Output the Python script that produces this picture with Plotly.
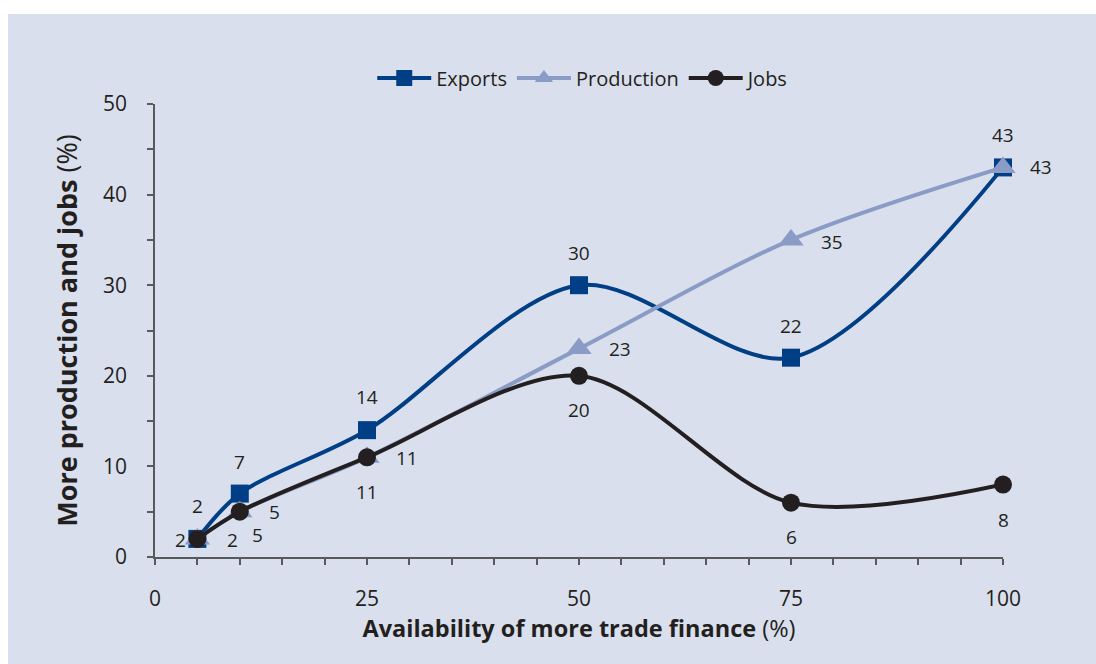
import plotly.graph_objects as go

# Data
availability = [5, 10, 25, 50, 75, 100]
exports = [2, 7, 14, 30, 22, 43]
production = [2, 5, 11, 23, 35, 43]
jobs = [2, 5, 11, 20, 6, 8]

series_names = ["Exports", "Production", "Jobs"]
x_tick_vals = [0, 25, 50, 75, 100]
y_tick_vals = [0, 10, 20, 30, 40, 50]

# Styles
PANEL = "#D9DFEC"
C_EXP = "#003E85"
C_PROD = "#8A9BC6"
C_JOBS = "#231F20"
TXT = "#231F20"
FONT = "Open Sans"

# label pixel offsets (dx, dy) per point
exp_off = [(0, 33), (0, 32), (0, 33), (0, 32), (0, 32), (0, 32)]
prod_off = [(-17, -1), (18, -23), (0, -35), (41, 0), (41, -2), (38, 0)]
jobs_off = [(35, -1), (35, 0), (40, -1), (0, -34), (0, -34), (0, -35)]

fig = go.Figure()

specs = [
    (series_names[0], exports, C_EXP, "square", 18, exp_off),
    (series_names[1], production, C_PROD, "triangle-up", 22, prod_off),
    (series_names[2], jobs, C_JOBS, "circle", 18, jobs_off),
]

for name, vals, col, sym, msize, offs in specs:
    fig.add_trace(go.Scatter(
        x=availability, y=vals, name=name, mode="lines+markers",
        line=dict(color=col, width=4, shape="spline", smoothing=0.9),
        marker=dict(symbol=sym, size=msize, color=col),
        cliponaxis=False,
    ))
    for xv, yv, (dx, dy) in zip(availability, vals, offs):
        fig.add_annotation(
            x=xv, y=yv, text=str(yv), showarrow=False,
            xshift=dx, yshift=dy,
            font=dict(family=FONT, size=19, color=TXT),
        )

W, H = 1096, 664
L, R, T, B = 155, 93, 104, 107
pw, ph = W - L - R, H - T - B

# panel background (white border at top and left)
fig.add_shape(
    type="rect", xref="paper", yref="paper", layer="below",
    x0=(8 - L) / pw, x1=(W - L + 5) / pw,
    y0=-(B + 5) / ph, y1=(H - B - 14) / ph,
    fillcolor=PANEL, line=dict(width=0),
)

fig.update_layout(
    width=W, height=H,
    margin=dict(l=L, r=R, t=T, b=B, pad=0),
    paper_bgcolor="white",
    plot_bgcolor=PANEL,
    font=dict(family=FONT, size=20, color=TXT),
    showlegend=True,
    legend=dict(
        orientation="h", x=0.505, xanchor="center", y=(H - B - 78) / ph, yanchor="middle",
        font=dict(family=FONT, size=20, color=TXT), bgcolor="rgba(0,0,0,0)",
        itemwidth=54, tracegroupgap=0,
    ),
    xaxis=dict(
        range=[0, 100], tickvals=x_tick_vals, showgrid=False, zeroline=False,
        showline=True, linecolor="#58595B", linewidth=1.5,
        ticks="outside", ticklen=6, tickcolor="#58595B", tickwidth=1.5,
        minor=dict(dtick=5, ticks="outside", ticklen=6, tickcolor="#58595B", tickwidth=1.5),
        tickfont=dict(size=21, color=TXT), ticklabelstandoff=16,
        title=dict(text="<b>Availability of more trade finance</b> (%)",
                   font=dict(size=23.5, color=TXT), standoff=10),
    ),
    yaxis=dict(
        range=[0, 50], tickvals=y_tick_vals, showgrid=False, zeroline=False,
        showline=True, linecolor="#58595B", linewidth=1.5,
        ticks="outside", ticklen=6, tickcolor="#58595B", tickwidth=1.5,
        minor=dict(dtick=5, ticks="outside", ticklen=6, tickcolor="#58595B", tickwidth=1.5),
        tickfont=dict(size=21, color=TXT), ticklabelstandoff=16,
        title=dict(text="<b>More production and jobs</b> (%)",
                   font=dict(size=27, color=TXT), standoff=18),
    ),
)

fig.write_html("out.html")
